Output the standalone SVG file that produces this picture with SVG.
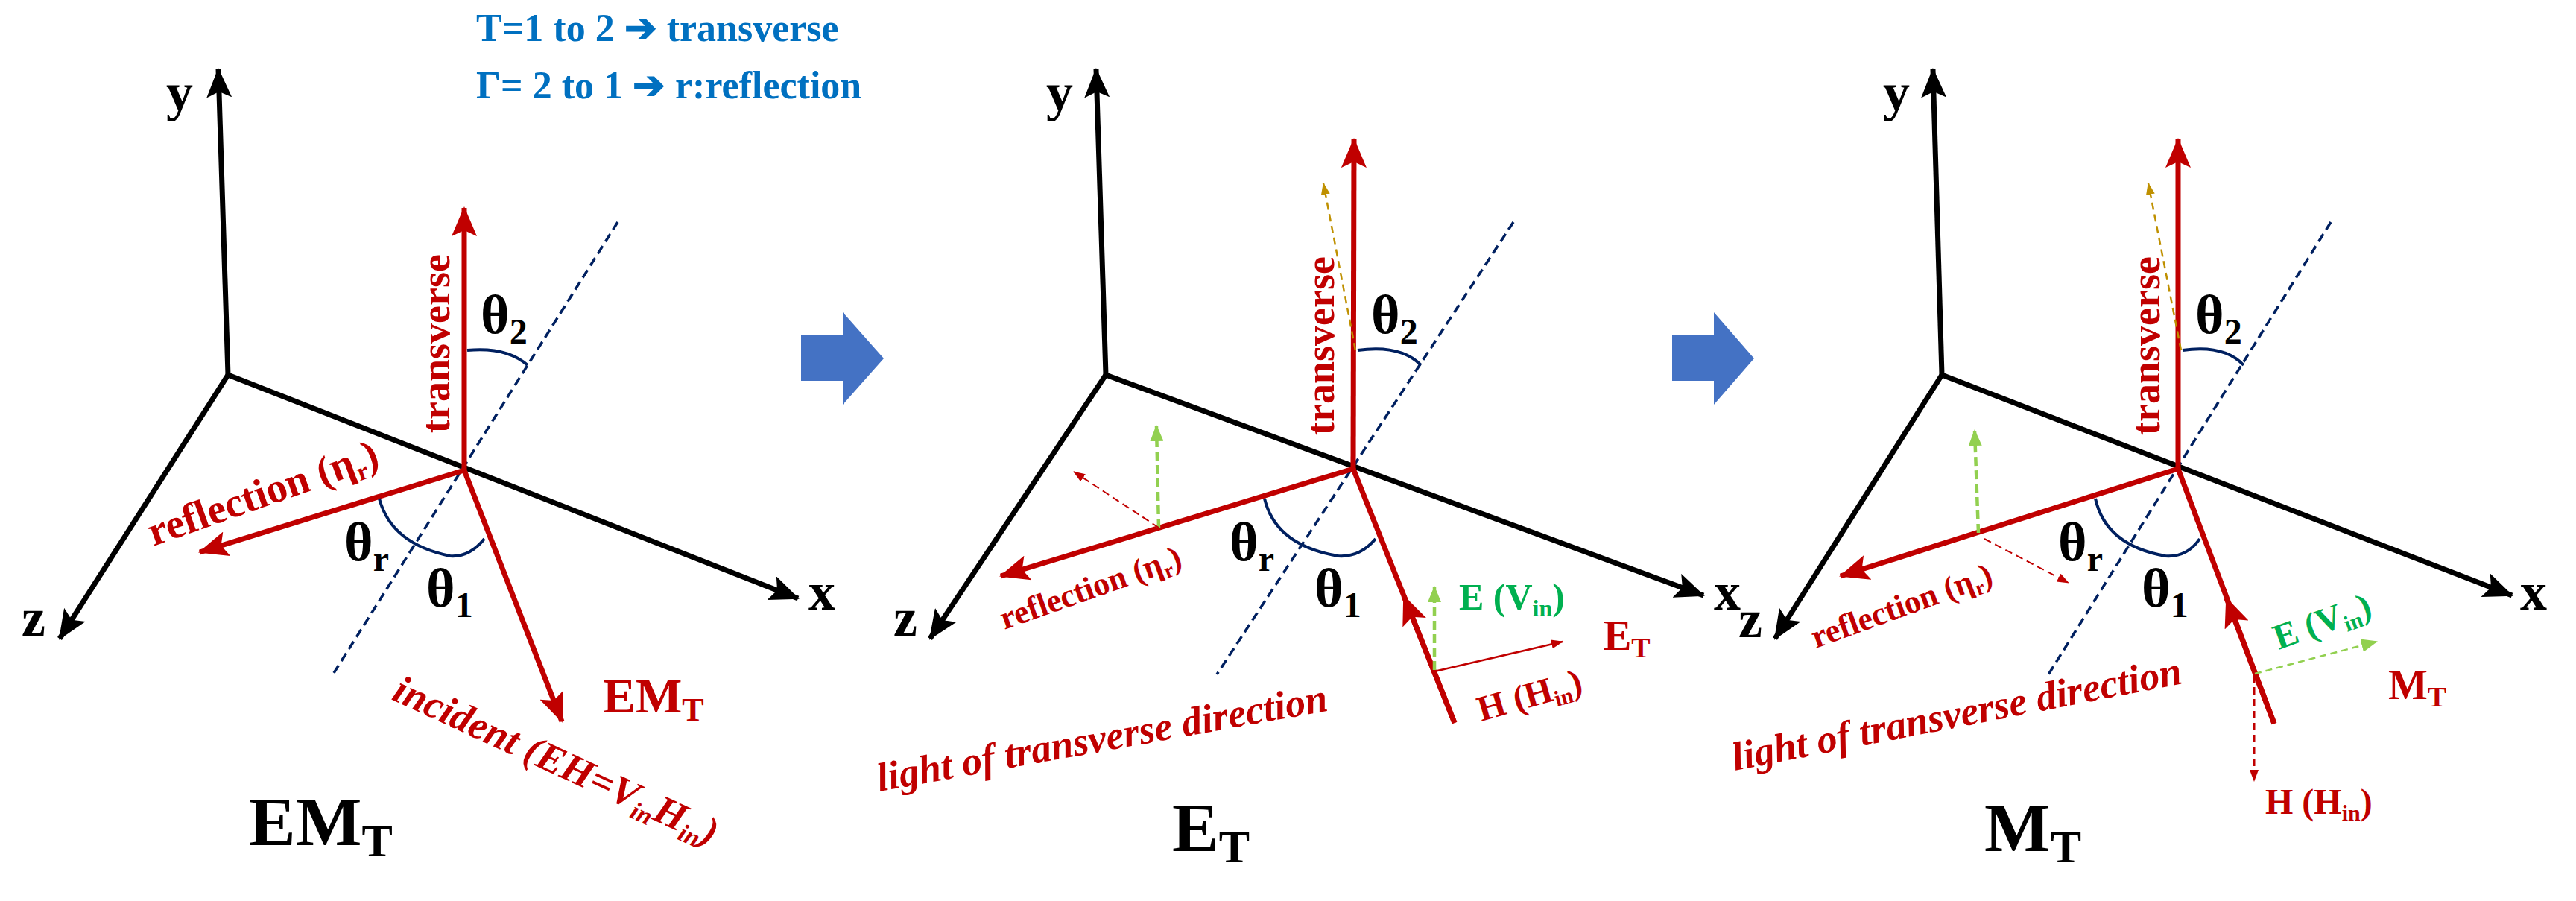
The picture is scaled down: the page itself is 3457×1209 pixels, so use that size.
<svg xmlns="http://www.w3.org/2000/svg" width="3457" height="1209" viewBox="0 0 3457 1209">
<defs>
<marker id="ab" markerUnits="userSpaceOnUse" markerWidth="40" markerHeight="34" refX="38" refY="17" orient="auto"><path d="M0,0 L40,17 L0,34 L8,17 z" fill="#000"/></marker>
<marker id="ar" markerUnits="userSpaceOnUse" markerWidth="40" markerHeight="34" refX="38" refY="17" orient="auto"><path d="M0,0 L40,17 L0,34 L8,17 z" fill="#C00000"/></marker>
<marker id="ars" markerUnits="userSpaceOnUse" markerWidth="16" markerHeight="12" refX="15" refY="6" orient="auto"><path d="M0,0 L16,6 L0,12 z" fill="#C00000"/></marker>
<marker id="ag" markerUnits="userSpaceOnUse" markerWidth="22" markerHeight="18" refX="20" refY="9" orient="auto"><path d="M0,0 L22,9 L0,18 z" fill="#92D050"/></marker>
<marker id="ao" markerUnits="userSpaceOnUse" markerWidth="16" markerHeight="12" refX="15" refY="6" orient="auto"><path d="M0,0 L16,6 L0,12 z" fill="#BF9000"/></marker>
</defs>
<style>
text{font-family:"Liberation Serif",serif;font-weight:bold}
.ax{stroke:#000;stroke-width:7;fill:none;marker-end:url(#ab)}
.rd{stroke:#C00000;stroke-width:7;fill:none}
.rda{stroke:#C00000;stroke-width:7;fill:none;marker-end:url(#ar)}
.nm{stroke:#002060;stroke-width:3.5;stroke-dasharray:12 7;fill:none}
.arc{stroke:#002060;stroke-width:4;fill:none}
.gd{stroke:#92D050;stroke-width:4.5;stroke-dasharray:12 6;fill:none;marker-end:url(#ag)}
.rdd{stroke:#C00000;stroke-width:2;stroke-dasharray:10 6;fill:none;marker-end:url(#ars)}
.rth{stroke:#C00000;stroke-width:2.5;fill:none;marker-end:url(#ars)}
.od{stroke:#BF9000;stroke-width:2.5;stroke-dasharray:10 6;fill:none;marker-end:url(#ao)}
.k{fill:#000}
.r{fill:#C00000}
.g{fill:#00B050}
.b{fill:#0070C0}
.bl{fill:#4472C4}
</style>

<g id="legend">
<text x="639" y="55" font-size="52" class="b">T=1 to 2 ➔ transverse</text>
<text x="639" y="132" font-size="52" class="b">Γ= 2 to 1 ➔ r:reflection</text>
</g>

<g id="step-arrows">
<polygon class="bl" points="1075,450 1131,450 1131,419 1186,481 1131,543 1131,511 1075,511"/>
<polygon class="bl" points="2244,450 2300,450 2300,419 2354,481 2300,543 2300,511 2244,511"/>
</g>

<g id="connectors">
<line class="ax" x1="306" y1="503" x2="293" y2="93"/>
<line class="ax" x1="306" y1="503" x2="1071" y2="803"/>
<line class="ax" x1="306" y1="503" x2="80" y2="857"/>
<line class="nm" x1="829" y1="298" x2="448" y2="903"/>
<line class="rda" x1="623" y1="631" x2="623" y2="279"/>
<line class="rda" x1="623" y1="631" x2="268" y2="741"/>
<line class="rda" x1="623" y1="631" x2="754" y2="968"/>
<path class="arc" d="M627,470 Q680,465 708,490"/>
<path class="arc" d="M509,669 Q525,730 604,746 Q630,748 650,723"/>
<line class="ax" x1="1484" y1="503" x2="1471" y2="93"/>
<line class="ax" x1="1484" y1="503" x2="2286" y2="799"/>
<line class="ax" x1="1484" y1="503" x2="1248" y2="857"/>
<line class="nm" x1="2031" y1="298" x2="1633" y2="905"/>
<line class="rda" x1="1816" y1="629" x2="1817" y2="187"/>
<line class="od" x1="1819" y1="470" x2="1776" y2="246"/>
<line class="rda" x1="1816" y1="629" x2="1343" y2="773"/>
<line class="gd" x1="1555" y1="708" x2="1552" y2="572"/>
<line class="rdd" x1="1555" y1="708" x2="1441" y2="633"/>
<line class="rd" x1="1816" y1="629" x2="1952" y2="970"/>
<line class="rda" x1="1952" y1="970" x2="1884" y2="800"/>
<line class="gd" x1="1925" y1="899" x2="1925" y2="788"/>
<line class="rth" x1="1925" y1="901" x2="2097" y2="861"/>
<path class="arc" d="M1822,470 Q1880,462 1907,490"/>
<path class="arc" d="M1697,669 Q1712,732 1796,746 Q1825,748 1846,723"/>
<line class="ax" x1="2606" y1="503" x2="2594" y2="93"/>
<line class="ax" x1="2606" y1="503" x2="3371" y2="799"/>
<line class="ax" x1="2606" y1="503" x2="2382" y2="857"/>
<line class="nm" x1="3128" y1="298" x2="2749" y2="905"/>
<line class="rda" x1="2923" y1="629" x2="2923" y2="187"/>
<line class="od" x1="2927" y1="470" x2="2883" y2="246"/>
<line class="rda" x1="2923" y1="629" x2="2470" y2="773"/>
<line class="gd" x1="2655" y1="715" x2="2650" y2="578"/>
<line class="rdd" x1="2663" y1="723" x2="2776" y2="782"/>
<line class="rd" x1="2923" y1="629" x2="3052" y2="971"/>
<line class="rda" x1="3052" y1="971" x2="2988" y2="803"/>
<line class="gd" x1="3026" y1="904" x2="3189" y2="861" style="stroke-width:2.5;stroke-dasharray:9 6"/>
<line class="rdd" x1="3025" y1="906" x2="3025" y2="1048" style="stroke-width:3"/>
<path class="arc" d="M2929,470 Q2985,462 3011,490"/>
<path class="arc" d="M2812,669 Q2826,732 2906,746 Q2935,748 2952,723"/>
</g>

<g id="panel1-labels">
<text x="241" y="148" font-size="72" class="k" text-anchor="middle">y</text>
<text x="1103" y="818" font-size="72" class="k" text-anchor="middle">x</text>
<text x="45" y="853" font-size="72" class="k" text-anchor="middle">z</text>
<text x="645" y="447" font-size="74" class="k">θ<tspan font-size="48" dy="14">2</tspan></text>
<text x="462" y="752" font-size="74" class="k">θ<tspan font-size="48" dy="14">r</tspan></text>
<text x="572" y="814" font-size="74" class="k">θ<tspan font-size="48" dy="14">1</tspan></text>
<text transform="translate(603,461) rotate(-90)" font-size="54" class="r" text-anchor="middle">transverse</text>
<text transform="translate(206,733) rotate(-19.5)" font-size="56" class="r">reflection (η<tspan font-size="34" dy="10">r</tspan><tspan dy="-10">)</tspan></text>
<text transform="translate(524,938) rotate(24.7)" font-size="54" font-style="italic" class="r">incident (EH=V<tspan font-size="34" dy="10">in</tspan><tspan dy="-10">H</tspan><tspan font-size="34" dy="10">in</tspan><tspan dy="-10">)</tspan></text>
<text x="809" y="956" font-size="66" class="r">EM<tspan font-size="44" dy="11">T</tspan></text>
<text x="334" y="1134" font-size="94" class="k">EM<tspan font-size="62" dy="15">T</tspan></text>
</g>

<g id="panel2-labels">
<text x="1422" y="148" font-size="72" class="k" text-anchor="middle">y</text>
<text x="2318" y="818" font-size="72" class="k" text-anchor="middle">x</text>
<text x="1215" y="853" font-size="72" class="k" text-anchor="middle">z</text>
<text x="1840" y="447" font-size="74" class="k">θ<tspan font-size="48" dy="14">2</tspan></text>
<text x="1650" y="752" font-size="74" class="k">θ<tspan font-size="48" dy="14">r</tspan></text>
<text x="1764" y="814" font-size="74" class="k">θ<tspan font-size="48" dy="14">1</tspan></text>
<text transform="translate(1790,464) rotate(-90)" font-size="54" class="r" text-anchor="middle">transverse</text>
<text transform="translate(1348,845) rotate(-19.5)" font-size="44" class="r">reflection (η<tspan font-size="28" dy="8">r</tspan><tspan dy="-8">)</tspan></text>
<text x="1958" y="818" font-size="50" class="g">E (V<tspan font-size="32" dy="9">in</tspan><tspan dy="-9">)</tspan></text>
<text x="2152" y="872" font-size="56" class="r">E<tspan font-size="38" dy="10">T</tspan></text>
<text transform="translate(1988,968) rotate(-16)" font-size="48" class="r">H (H<tspan font-size="30" dy="9">in</tspan><tspan dy="-9">)</tspan></text>
<text transform="translate(1180,1062) rotate(-10.2)" font-size="54" font-style="italic" class="r">light of transverse  direction</text>
<text x="1573" y="1142" font-size="94" class="k">E<tspan font-size="62" dy="15">T</tspan></text>
</g>

<g id="panel3-labels">
<text x="2545" y="148" font-size="72" class="k" text-anchor="middle">y</text>
<text x="3400" y="818" font-size="72" class="k" text-anchor="middle">x</text>
<text x="2349" y="855" font-size="72" class="k" text-anchor="middle">z</text>
<text x="2946" y="447" font-size="74" class="k">θ<tspan font-size="48" dy="14">2</tspan></text>
<text x="2762" y="752" font-size="74" class="k">θ<tspan font-size="48" dy="14">r</tspan></text>
<text x="2874" y="814" font-size="74" class="k">θ<tspan font-size="48" dy="14">1</tspan></text>
<text transform="translate(2898,464) rotate(-90)" font-size="54" class="r" text-anchor="middle">transverse</text>
<text transform="translate(2437,870) rotate(-20)" font-size="44" class="r">reflection (η<tspan font-size="28" dy="8">r</tspan><tspan dy="-8">)</tspan></text>
<text transform="translate(3058,872) rotate(-20)" font-size="48" class="g">E (V<tspan font-size="30" dy="9">in</tspan><tspan dy="-9">)</tspan></text>
<text x="3205" y="938" font-size="56" class="r">M<tspan font-size="38" dy="10">T</tspan></text>
<text x="3040" y="1092" font-size="48" class="r">H (H<tspan font-size="30" dy="9">in</tspan><tspan dy="-9">)</tspan></text>
<text transform="translate(2328,1034) rotate(-11)" font-size="54" font-style="italic" class="r">light of transverse  direction</text>
<text x="2663" y="1142" font-size="94" class="k">M<tspan font-size="62" dy="15">T</tspan></text>
</g>
</svg>
